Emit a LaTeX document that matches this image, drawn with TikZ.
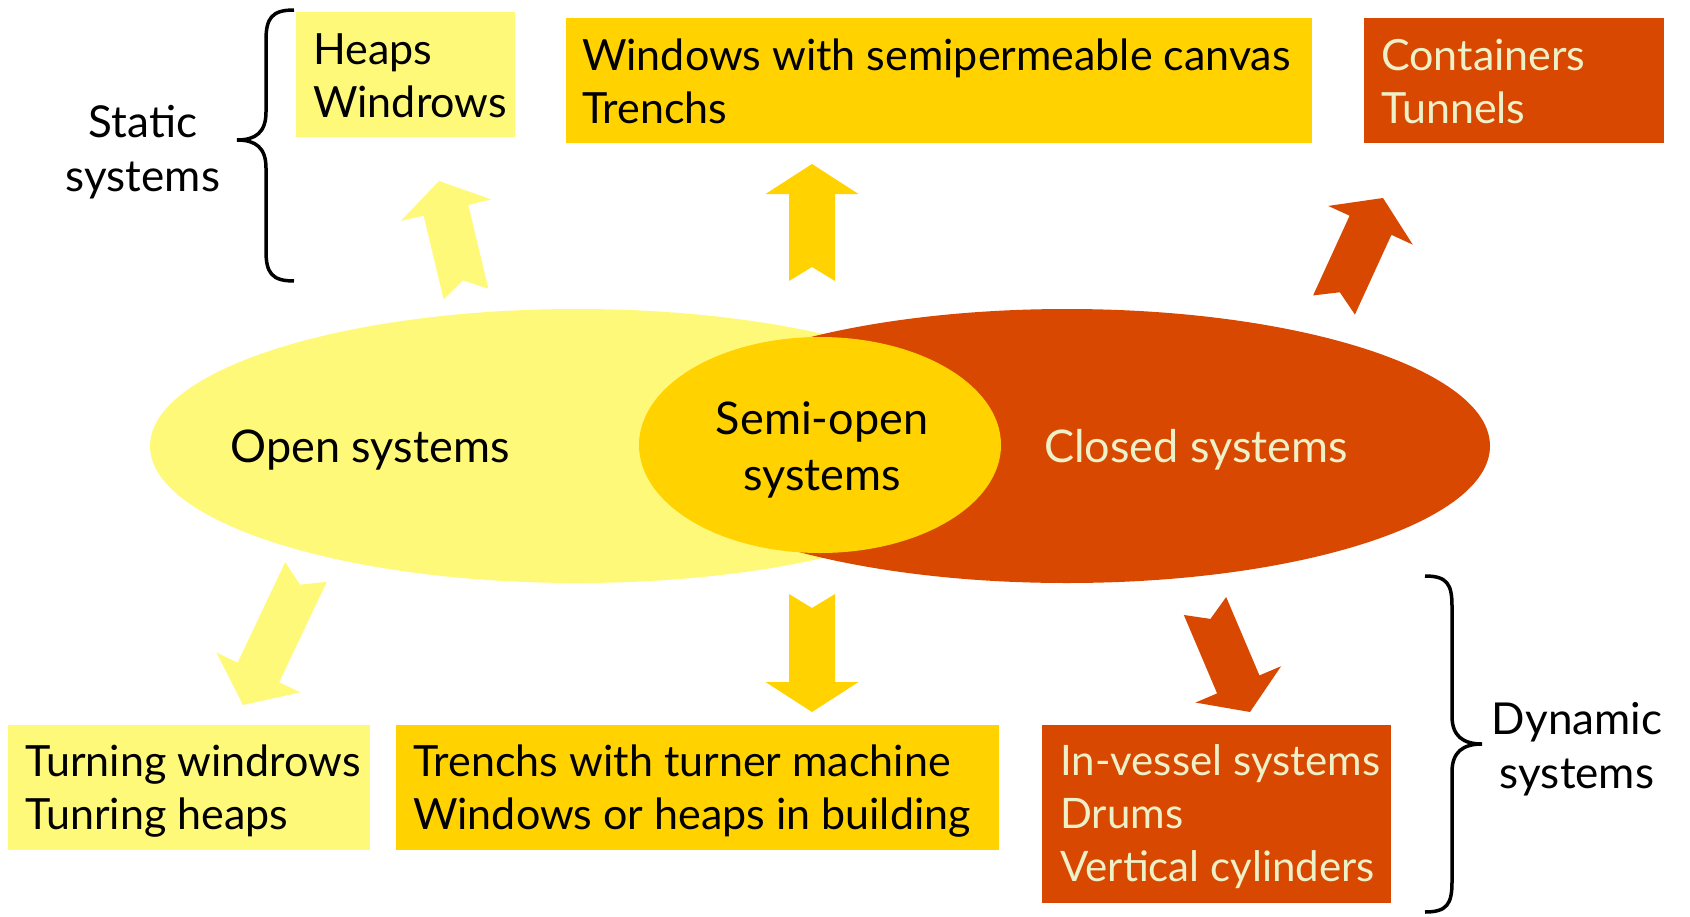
\documentclass[tikz,border=0pt]{standalone}
\usepackage{fontspec}
\setmainfont{Lato}
\usetikzlibrary{calc,shapes.geometric}
\definecolor{lyel}{RGB}{255,249,122}
\definecolor{gold}{RGB}{255,210,0}
\definecolor{rust}{RGB}{216,72,0}
\definecolor{cream}{RGB}{238,240,200}

% color, tail coordinate, tip coordinate, head length
\newcommand\blockarrow[4]{%
  \fill[#1] let \p1=($(#3)-(#2)$), \n1={veclen(\x1,\y1)}, \n2={atan2(\y1,\x1)} in
    ($(#2)+({\n2+90}:23pt)$)
    -- ($(#2)+({\n2+90}:23pt)+(\n2:{\n1-#4})$)
    -- ($(#2)+({\n2+90}:46.5pt)+(\n2:{\n1-#4})$)
    -- (#3)
    -- ($(#2)+({\n2-90}:46.5pt)+(\n2:{\n1-#4})$)
    -- ($(#2)+({\n2-90}:23pt)+(\n2:{\n1-#4})$)
    -- ($(#2)+({\n2-90}:23pt)$)
    -- ($(#2)+(\n2:14pt)$)
    -- cycle;%
}

\tikzset{
  boxshape/.style={rectangle, inner sep=0pt, anchor=north west},
  btext/.style={inner sep=0pt, anchor=west, align=left, font=\fontsize{43}{53}\selectfont},
  etext/.style={inner sep=0pt, align=center, font=\fontsize{45}{56}\selectfont},
  blabel/.style={inner sep=0pt, align=center, font=\fontsize{44}{54}\selectfont},
  ell/.style={ellipse, inner sep=0pt},
  bracepath/.style={line width=3.5pt, black},
}

\begin{document}
\begin{tikzpicture}[x=1pt, y=-1pt]
\useasboundingbox (0,0) rectangle (1690,916);

% ellipses
\node[ell, fill=lyel, minimum width=854pt, minimum height=274pt] (open) at (577,446) {};
\node[ell, fill=rust, minimum width=846pt, minimum height=274pt] (closed) at (1067,446) {};
\node[ell, fill=gold, minimum width=362pt, minimum height=216pt] (semi) at (820,445) {};

\node[etext] (opent) at (370,450) {Open systems};
\node[etext, text=cream] (closedt) at (1196,450) {Closed systems};
\node[etext] (semit) at (822,450) {Semi-open\\systems};

% boxes
\node[boxshape, fill=lyel, minimum width=219pt, minimum height=125pt] (b1) at (296,12) {};
\node[boxshape, fill=gold, minimum width=746pt, minimum height=125pt] (b2) at (566,18) {};
\node[boxshape, fill=rust, minimum width=300pt, minimum height=125pt] (b3) at (1364,18) {};
\node[boxshape, fill=lyel, minimum width=362pt, minimum height=125pt] (b4) at (8,725) {};
\node[boxshape, fill=gold, minimum width=603pt, minimum height=125pt] (b5) at (396,725) {};
\node[boxshape, fill=rust, minimum width=349pt, minimum height=178pt] (b6) at (1042,725) {};

\node[btext] (t1) at ($(b1.west)+(17,1)$) {Heaps\\Windrows};
\node[btext] (t2) at ($(b2.west)+(16,1)$) {Windows with semipermeable canvas\\Trenchs};
\node[btext, text=cream] (t3) at ($(b3.west)+(17,1)$) {Containers\\Tunnels};
\node[btext] (t4) at ($(b4.west)+(17,3)$) {Turning windrows\\Tunring heaps};
\node[btext] (t5) at ($(b5.west)+(17,3)$) {Trenchs with turner machine\\Windows or heaps in building};
\node[btext, text=cream, font=\fontsize{42}{53}\selectfont] (t6) at ($(b6.west)+(18,2)$) {In-vessel systems\\Drums\\Vertical cylinders};

% arrows
\coordinate (a1t) at (466,294); \coordinate (a1h) at (439,181);
\coordinate (a2t) at (812,281); \coordinate (a2h) at (812,164);
\coordinate (a3t) at (1334,305); \coordinate (a3h) at (1383,198);
\coordinate (a4t) at (306,572); \coordinate (a4h) at (243,705);
\coordinate (a5t) at (812,594); \coordinate (a5h) at (812,712);
\coordinate (a6t) at (1205,606); \coordinate (a6h) at (1250,712);
\blockarrow{lyel}{a1t}{a1h}{30pt}
\blockarrow{gold}{a2t}{a2h}{30pt}
\blockarrow{rust}{a3t}{a3h}{30pt}
\blockarrow{lyel}{a4t}{a4h}{36pt}
\blockarrow{gold}{a5t}{a5h}{30pt}
\blockarrow{rust}{a6t}{a6h}{30pt}

% braces
\draw[bracepath] (294,10) .. controls (272,10) and (266,18) .. (266,40)
  -- (266,112) .. controls (266,132) and (256,140) .. (237,140)
  .. controls (256,140) and (266,148) .. (266,168)
  -- (266,251) .. controls (266,273) and (272,281) .. (294,281);
\node[blabel] (static) at (143,152) {Static\\systems};

\draw[bracepath] (1425,576) .. controls (1447,576) and (1452,584) .. (1452,606)
  -- (1452,716) .. controls (1452,736) and (1463,744) .. (1482,744)
  .. controls (1463,744) and (1452,752) .. (1452,772)
  -- (1452,882) .. controls (1452,904) and (1447,912) .. (1425,912);
\node[blabel] (dynamic) at (1577,749) {Dynamic\\systems};
\end{tikzpicture}
\end{document}
